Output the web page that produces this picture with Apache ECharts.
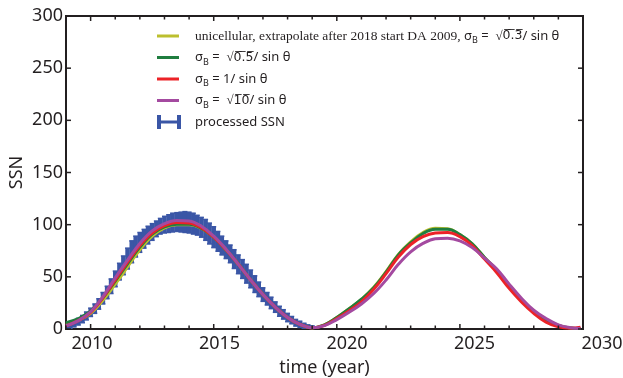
<!DOCTYPE html>
<html>
<head>
<meta charset="utf-8">
<script src="https://cdn.jsdelivr.net/npm/echarts@6/dist/echarts.min.js"></script>
<style>
  html, body { margin: 0; padding: 0; background: #fff; }
  #chart { width: 623px; height: 378px; }
</style>
</head>
<body>
<div id="chart"></div>
<script>
// model curves, sampled every half year
const lineYears = [2009, 2009.5, 2010, 2010.5, 2011, 2011.5, 2012, 2012.5, 2013, 2013.5, 2014, 2014.5,
    2015, 2015.5, 2016, 2016.5, 2017, 2017.5, 2018, 2018.5, 2019, 2019.5, 2020, 2020.5, 2021, 2021.5,
    2022, 2022.5, 2023, 2023.5, 2024, 2024.5, 2025, 2025.5, 2026, 2026.5, 2027, 2027.5, 2028, 2028.5,
    2029, 2029.5, 2029.9];
const uniValues = [4.5, 8.5, 15, 27.5, 43, 59.5, 76, 89, 97, 100, 100, 96.5, 88, 76, 62, 47, 33, 21, 11, 4.5, 1.2,
    4, 11, 19.5, 28.5, 40, 55, 71.5, 83.5, 92.5, 96.5, 96, 90.5, 81.5, 68.5, 56, 42, 28, 17, 9, 3.5, 1, 0.5];
const b05Values = [6, 10, 17, 30, 46, 62.5, 78.5, 91, 98, 100.5, 100.5, 96.5, 88, 76, 62, 47, 33, 21, 11, 4.5, 1.2,
    4, 11, 19.5, 28.5, 39.5, 54.5, 71, 82.5, 91.5, 95.5, 95.5, 90.5, 81.5, 68.5, 56, 42, 28, 17, 9, 3.5, 1, 0.5];
const b1Values = [3, 8, 16, 30, 47, 64, 80, 92, 99, 102, 101.5, 97, 88, 76, 62, 47, 33, 21, 11, 4.5, 1.2,
    3.5, 10, 17.5, 26, 38, 53, 69, 81, 88.5, 92, 92.5, 88.5, 80, 67, 54, 39, 26, 15, 6.5, 2, 0.8, 1.8];
const b10Values = [3, 8, 16.5, 31, 49, 66, 82, 94, 101, 104, 103.5, 98.5, 89, 76.5, 62, 47, 33, 21, 11, 4.5, 1.2,
    3.3, 9, 16, 24, 34, 47, 62, 74, 82, 86.5, 87, 84.5, 78, 68, 57.5, 43, 29.5, 18, 10, 4, 1.2, 0.5];

// processed SSN with error bars, every two months
const ssnYears = [2009, 2009.17, 2009.33, 2009.5, 2009.67, 2009.83, 2010, 2010.17, 2010.33, 2010.5, 2010.67, 2010.83,
    2011, 2011.17, 2011.33, 2011.5, 2011.67, 2011.83, 2012, 2012.17, 2012.33, 2012.5, 2012.67, 2012.83,
    2013, 2013.17, 2013.33, 2013.5, 2013.67, 2013.83, 2014, 2014.17, 2014.33, 2014.5, 2014.67, 2014.83,
    2015, 2015.17, 2015.33, 2015.5, 2015.67, 2015.83, 2016, 2016.17, 2016.33, 2016.5, 2016.67, 2016.83,
    2017, 2017.17, 2017.33, 2017.5, 2017.67, 2017.83, 2018, 2018.17, 2018.33, 2018.5, 2018.67, 2018.83, 2019];
const ssnValues = [2.5, 3.5, 5, 7, 9.5, 12.5, 16, 19.5, 24, 29.5, 35, 41,
    48, 55, 61, 67.5, 74, 79, 83, 86.5, 90, 93, 96, 98.5,
    100, 101, 102, 102.5, 102.5, 102.5, 102, 101, 99.5, 97.5, 95, 91.5,
    88, 84, 80, 76, 72, 67, 62, 57.5, 53, 48, 43, 38,
    33, 29, 25, 21, 17, 14, 11, 8.5, 6, 4.5, 3, 2, 1.5];
const ssnErrors = [2.5, 2.8, 3, 3.2, 3.5, 3.8, 4, 4.5, 5, 5.5, 6, 7,
    7.5, 8, 9, 10, 10.5, 10, 9.5, 9, 8.5, 8, 7.5, 7.5,
    8, 8.5, 9, 9, 9.5, 10, 10, 10, 9.5, 9.5, 10, 10,
    10, 9.5, 9, 8.5, 8.5, 9, 9, 9, 9, 8.5, 8, 7,
    6.5, 6, 5.5, 5, 4.8, 4.5, 4, 3.5, 3.2, 3, 2.5, 2, 1.5];

// frame ticks
const xTickYears = [2009, 2010, 2011, 2012, 2013, 2014, 2015, 2016, 2017, 2018, 2019,
    2020, 2021, 2022, 2023, 2024, 2025, 2026, 2027, 2028, 2029, 2030];
const yTickValues = [0, 50, 100, 150, 200, 250, 300];
const X_MIN = 2009, X_MAX = 2030, Y_MIN = 0, Y_MAX = 300;

const INK = '#231f20';
const colors = { uni: '#bcbf2e', b05: '#1f7d3f', b1: '#ec2227', b10: '#a44aa0', ssn: '#3a56a6' };

const legendText = {
    uni: '{g| }{serif|unicellular, extrapolate after 2018 start DA 2009, }{s|σ}{sub|B}{s| =  √}{ov|0\u0305.\u03053\u0305}{s|/ sin θ}',
    b05: '{g| }{s|σ}{sub|B}{s| =  √}{ov|0\u0305.\u03055\u0305}{s|/ sin θ}',
    b1: '{g| }{s|σ}{sub|B}{s| = 1/ sin θ}',
    b10: '{g| }{s|σ}{sub|B}{s| =  √}{ov|1\u03050\u0305}{s|/ sin θ}',
    ssn: '{g| }{s|processed SSN}'
};

// legend icons: tiny corner dots keep the box size so the bar stays thin
const lineIcon = 'path://M0,0h0.01v0.01h-0.01z M0,5.5h22v3h-22z M24,13.99h0.01v0.01h-0.01z';
const barIcon = 'path://M0,0h4v14h-4z M4,5.5h16v3h-16z M20,0h4v14h-4z';

function pairs(xs, ys) {
    return xs.map((x, i) => [x, ys[i]]);
}

const ssnData = ssnYears.map((x, i) => [x, ssnValues[i] - ssnErrors[i], ssnValues[i] + ssnErrors[i]]);

function lineSeries(id, values) {
    return {
        name: id,
        type: 'line',
        xAxisIndex: 0,
        yAxisIndex: 0,
        data: pairs(lineYears, values),
        smooth: 0.4,
        symbol: 'none',
        showSymbol: false,
        lineStyle: { color: colors[id], width: 3 },
        itemStyle: { color: colors[id] },
        z: 3
    };
}

const chart = echarts.init(document.getElementById('chart'));

const option = {
    animation: false,
    textStyle: { fontFamily: 'Noto Sans' },
    grid: [
        // the frame is the grid border
        { left: 66, top: 16, width: 517, height: 313, outerBoundsMode: 'none',
          show: true, borderColor: INK, borderWidth: 2, backgroundColor: 'transparent' },
        { left: 66.5, top: 16, width: 535.5, height: 313, outerBoundsMode: 'none' }
    ],
    legend: {
        orient: 'vertical',
        left: 157,
        top: 29,
        padding: 0,
        itemWidth: 24,
        itemHeight: 14,
        itemGap: 5.5,
        data: [
            { name: 'uni', icon: lineIcon },
            { name: 'b05', icon: lineIcon },
            { name: 'b1', icon: lineIcon },
            { name: 'b10', icon: lineIcon },
            { name: 'ssn', icon: barIcon }
        ],
        formatter: name => legendText[name],
        textStyle: {
            color: INK,
            rich: {
                g: { width: 9, fontSize: 13 },
                serif: { fontFamily: 'Liberation Serif', fontSize: 13.5, color: INK, lineHeight: 18 },
                s: { fontFamily: 'Noto Sans', fontSize: 13, color: INK, lineHeight: 18 },
                sub: { fontFamily: 'Noto Sans', fontSize: 9, color: INK, lineHeight: 10, verticalAlign: 'bottom' },
                ov: { fontFamily: 'DejaVu Sans', fontSize: 12.5, color: INK, lineHeight: 18 }
            }
        }
    },
    xAxis: [
        {
            type: 'value', gridIndex: 0, position: 'bottom',
            min: X_MIN, max: X_MAX, interval: 1,
            axisLine: { show: false, onZero: false },
            axisTick: { show: false },
            axisLabel: { show: false },
            splitLine: { show: false },
            name: 'time (year)',
            nameLocation: 'middle',
            nameGap: 30,
            nameTextStyle: { fontFamily: 'Noto Sans', fontSize: 18, color: INK }
        },
        {
            // tick labels
            type: 'value', gridIndex: 1, position: 'bottom',
            min: X_MIN, max: X_MAX, interval: 1,
            axisLine: { show: false, onZero: false },
            axisTick: { show: false },
            splitLine: { show: false },
            axisLabel: {
                show: true,
                margin: 5.5,
                fontFamily: 'Noto Sans',
                fontSize: 18,
                color: INK,
                formatter: v => (v % 5 === 0 ? String(v) : '')
            }
        }
    ],
    yAxis: [
        {
            type: 'value', gridIndex: 0, position: 'left',
            min: Y_MIN, max: Y_MAX, interval: 50,
            axisLine: { show: false, onZero: false },
            axisTick: { show: false },
            axisLabel: { show: true, margin: 3, fontFamily: 'Noto Sans', fontSize: 18, color: INK },
            splitLine: { show: false },
            name: 'SSN',
            nameLocation: 'middle',
            nameGap: 40,
            nameMoveOverlap: false,
            nameRotate: 90,
            nameTextStyle: { fontFamily: 'Noto Sans', fontSize: 18, color: INK }
        },
        {
            type: 'value', gridIndex: 1, min: Y_MIN, max: Y_MAX, show: false
        }
    ],
    series: [
        {
            name: 'ssn',
            type: 'custom',
            xAxisIndex: 0,
            yAxisIndex: 0,
            data: ssnData,
            itemStyle: { color: colors.ssn },
            clip: true,
            z: 2,
            renderItem: function (params, api) {
                const x = api.value(0);
                const lo = api.coord([x, api.value(1)]);
                const hi = api.coord([x, api.value(2)]);
                const w = 2.5;
                return {
                    type: 'group',
                    children: [
                        { type: 'line', shape: { x1: lo[0], y1: lo[1], x2: hi[0], y2: hi[1] }, style: { stroke: colors.ssn, lineWidth: 4.5 } },
                        { type: 'line', shape: { x1: lo[0] - w, y1: lo[1], x2: lo[0] + w, y2: lo[1] }, style: { stroke: colors.ssn, lineWidth: 1.5 } },
                        { type: 'line', shape: { x1: hi[0] - w, y1: hi[1], x2: hi[0] + w, y2: hi[1] }, style: { stroke: colors.ssn, lineWidth: 1.5 } }
                    ]
                };
            }
        },
        lineSeries('uni', uniValues),
        lineSeries('b05', b05Values),
        lineSeries('b1', b1Values),
        lineSeries('b10', b10Values)
    ]
};

chart.setOption(option);

// inward frame ticks, placed through the axis scales
function tickLine(p, dx, dy) {
    return {
        type: 'line',
        silent: true,
        z: 100,
        shape: { x1: p[0], y1: p[1], x2: p[0] + dx, y2: p[1] + dy },
        style: { stroke: INK, lineWidth: 1.5 }
    };
}

const ticks = [];
xTickYears.forEach(v => {
    const len = v % 5 === 0 ? 5 : 3.5;
    ticks.push(tickLine(chart.convertToPixel({ gridIndex: 0 }, [v, Y_MIN]), 0, -len));
    ticks.push(tickLine(chart.convertToPixel({ gridIndex: 0 }, [v, Y_MAX]), 0, len));
});
yTickValues.forEach(v => {
    ticks.push(tickLine(chart.convertToPixel({ gridIndex: 0 }, [X_MIN, v]), 5, 0));
    ticks.push(tickLine(chart.convertToPixel({ gridIndex: 0 }, [X_MAX, v]), -5, 0));
});
chart.setOption({ graphic: ticks });
</script>
</body>
</html>
